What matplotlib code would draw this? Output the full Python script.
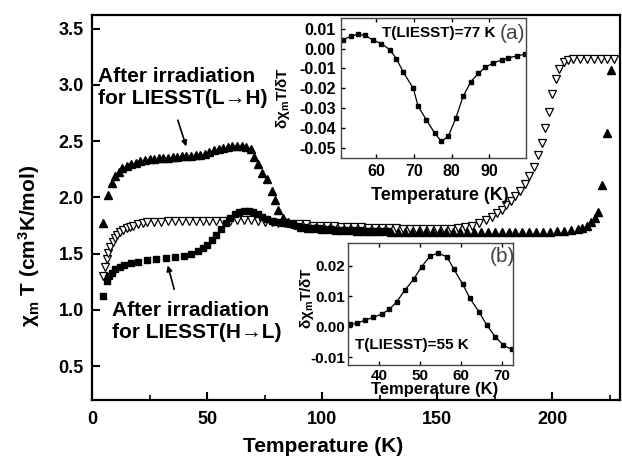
import matplotlib
matplotlib.use("Agg")
import matplotlib.pyplot as plt

plt.rcParams['font.family'] = ['Liberation Sans', 'DejaVu Sans']
plt.rcParams['font.weight'] = 'bold'
plt.rcParams['mathtext.fontset'] = 'custom'
plt.rcParams['mathtext.rm'] = 'Liberation Sans:bold'
plt.rcParams['mathtext.it'] = 'Liberation Sans:bold'
plt.rcParams['mathtext.bf'] = 'Liberation Sans:bold'

# ---- main panel data ----
# thermal curve (open down-triangles)
T_open = [4.8, 5.5, 6.3, 7, 8, 9, 10, 11, 12, 13.5, 15, 16.5, 18, 20, 22, 24, 27, 30, 33, 36,
          39, 42, 45, 48, 51, 54, 57, 60, 63, 66, 69, 72, 75, 78, 81, 84, 87, 90, 93, 96,
          99, 102, 105, 108, 111, 114, 117, 120, 123, 126, 129, 132, 135, 138, 141, 144, 147, 150, 153, 156,
          159, 162, 165, 168, 171, 174, 176, 178, 180, 182, 184, 186, 188, 190, 192, 194, 195.5, 197, 198.5, 200,
          201.5, 203, 205, 207, 209, 212, 215, 218, 221, 224, 227]
chi_open = [1.30, 1.38, 1.45, 1.51, 1.56, 1.60, 1.64, 1.67, 1.69, 1.71, 1.73, 1.74, 1.75, 1.76, 1.77, 1.78, 1.78, 1.785, 1.79, 1.79,
            1.79, 1.79, 1.79, 1.79, 1.79, 1.79, 1.79, 1.79, 1.80, 1.80, 1.80, 1.79, 1.78, 1.78, 1.77, 1.77, 1.76, 1.76, 1.76, 1.75,
            1.75, 1.75, 1.75, 1.74, 1.74, 1.74, 1.74, 1.73, 1.73, 1.73, 1.73, 1.73, 1.72, 1.72, 1.72, 1.72, 1.72, 1.72, 1.72, 1.72,
            1.73, 1.74, 1.75, 1.77, 1.80, 1.83, 1.86, 1.89, 1.93, 1.97, 2.01, 2.06, 2.12, 2.19, 2.27, 2.38, 2.48, 2.62, 2.76, 2.92,
            3.05, 3.14, 3.20, 3.22, 3.23, 3.23, 3.23, 3.23, 3.23, 3.23, 3.23]

# after irradiation for LIESST(H->L) (filled squares)
T_sq = [4.8, 6.5, 7.5, 8.5, 10, 12, 14, 17, 20, 24, 28, 32, 36, 40, 43, 46, 48, 50, 52, 54,
        56, 58, 60, 62, 64, 66, 68, 70, 72, 74, 76, 78, 80, 83, 86, 89, 92, 95, 98, 101,
        104, 107, 110, 113, 116, 119, 122, 125, 128]
chi_sq = [1.12, 1.26, 1.30, 1.33, 1.36, 1.38, 1.40, 1.42, 1.43, 1.44, 1.45, 1.46, 1.47, 1.48, 1.50, 1.52, 1.55, 1.58, 1.62, 1.67,
          1.72, 1.77, 1.82, 1.85, 1.87, 1.88, 1.88, 1.87, 1.85, 1.83, 1.81, 1.79, 1.78, 1.77, 1.76, 1.75, 1.74, 1.73, 1.73, 1.72,
          1.72, 1.71, 1.71, 1.71, 1.71, 1.70, 1.70, 1.70, 1.70]

# after irradiation for LIESST(L->H) (filled up-triangles)
T_tri = [4.8, 6.8, 8.5, 10, 11.5, 13, 15, 17, 19, 21, 23, 25, 27, 29, 31, 33, 35, 37, 39, 41,
         43, 45, 47, 49, 51, 53, 55, 57, 59, 61, 63, 65, 67, 69, 70.5, 72, 74, 76, 78, 79.5,
         81, 83, 85, 88, 91, 94, 97, 100, 103, 106, 109, 112, 115, 118, 121, 124, 127, 130, 133, 136,
         139, 142, 145, 148, 151, 154, 157, 160, 163, 166, 169, 172, 175, 178, 181, 184, 187, 190, 193, 196,
         199, 202, 205, 208, 211, 213, 215, 217, 218.5, 219.8, 221.5, 223.6, 225.5]
chi_tri = [1.77, 2.02, 2.13, 2.19, 2.23, 2.26, 2.28, 2.30, 2.31, 2.32, 2.33, 2.34, 2.345, 2.35, 2.35, 2.355, 2.36, 2.36, 2.365, 2.37,
           2.37, 2.375, 2.38, 2.39, 2.40, 2.42, 2.43, 2.44, 2.45, 2.455, 2.46, 2.46, 2.45, 2.43, 2.36, 2.30, 2.22, 2.16, 2.06, 1.98,
           1.89, 1.82, 1.78, 1.76, 1.74, 1.73, 1.73, 1.72, 1.72, 1.71, 1.71, 1.71, 1.70, 1.70, 1.70, 1.70, 1.70, 1.69, 1.69, 1.69,
           1.69, 1.69, 1.69, 1.69, 1.69, 1.69, 1.69, 1.69, 1.69, 1.69, 1.69, 1.69, 1.69, 1.69, 1.69, 1.69, 1.69, 1.69, 1.69, 1.69,
           1.69, 1.70, 1.70, 1.71, 1.72, 1.73, 1.75, 1.78, 1.82, 1.87, 2.11, 2.57, 3.13]

# ---- inset (a) ----
Ta = [51.1, 53.3, 55.1, 56.9, 59.1, 61.3, 63.5, 65.3, 67.1, 69.8, 71.1, 73.3, 75.5, 77.3, 79.1,
      81.1, 83.1, 85.1, 87.1, 88.9, 91.1, 93.3, 95.1, 97.3, 99.5]
da = [0.0045, 0.0062, 0.0072, 0.0067, 0.0042, 0.0025, -0.0005, -0.0050, -0.0117, -0.0200, -0.0290, -0.0359, -0.0425, -0.0467, -0.0442,
      -0.0350, -0.0239, -0.0167, -0.0125, -0.0095, -0.0072, -0.0058, -0.0047, -0.0037, -0.0029]

# ---- inset (b) ----
Tb = [32.9, 34.5, 36.6, 38.6, 40.7, 42.5, 44.3, 46.3, 48.4, 50.4, 52.5, 54.5, 56.6, 58.3, 60.4,
      62.2, 64.4, 66.3, 68.4, 70.4, 72.4]
db = [0.0008, 0.0011, 0.0022, 0.0031, 0.0042, 0.0057, 0.0082, 0.0120, 0.0155, 0.0197, 0.0232, 0.0241, 0.0228, 0.0188, 0.0140,
      0.0093, 0.0049, 0.0006, -0.0033, -0.0060, -0.0074]

main_xticks = [0, 50, 100, 150, 200]
main_yticks = [0.5, 1.0, 1.5, 2.0, 2.5, 3.0, 3.5]

fig = plt.figure(figsize=(6.22, 4.59), dpi=100)
ax = fig.add_axes([0.148, 0.1285, 0.849, 0.8385])

ax.plot(T_open, chi_open, linestyle='none', marker='v', ms=5.5, mfc='white', mec='black', mew=0.9, zorder=2)
ax.plot(T_sq, chi_sq, linestyle='none', marker='s', ms=4.5, color='black', zorder=3)
ax.plot(T_tri, chi_tri, linestyle='none', marker='^', ms=5.5, color='black', zorder=4)

ax.set_xlim(0, 229.5)
ax.set_ylim(0.2, 3.62)
ax.set_xticks(main_xticks)
ax.set_xticks([25, 75, 125, 175, 225], minor=True)
ax.set_yticks(main_yticks)
ax.set_yticklabels([f"{v:.1f}" for v in main_yticks])
ax.tick_params(which='major', direction='in', length=6, width=1.5, labelsize=13, pad=6)
ax.tick_params(which='minor', direction='in', length=3.5, width=1.2)
ax.tick_params(axis='x', which='major', pad=8)
for s in ax.spines.values():
    s.set_linewidth(1.6)
ax.set_xlabel('Temperature (K)', fontsize=15, fontweight='bold')
ax.xaxis.set_label_coords(0.4375, -0.097)
ax.set_ylabel('χ$_m$ T (cm$^3$K/mol)', fontsize=15, fontweight='bold')
ax.yaxis.set_label_coords(-0.094, 0.40)

ax.text(2.6, 2.98, 'After irradiation\nfor LIESST(L\u2192H)', fontsize=15, fontweight='bold',
        ha='left', va='center', linespacing=1.2, zorder=6)
ax.annotate('', xy=(41.3, 2.43), xytext=(36.9, 2.71),
            arrowprops=dict(arrowstyle='-|>', color='black', lw=1.2, mutation_scale=8))
ax.text(8.7, 0.90, 'After irradiation\nfor LIESST(H\u2192L)', fontsize=15, fontweight='bold',
        ha='left', va='center', linespacing=1.2, zorder=6)
ax.annotate('', xy=(32.6, 1.42), xytext=(36.0, 1.16),
            arrowprops=dict(arrowstyle='-|>', color='black', lw=1.2, mutation_scale=8))

# inset (a)
axa = fig.add_axes([0.549, 0.6558, 0.2967, 0.3043])
axa.plot(Ta, da, color='black', lw=0.9, marker='s', ms=3.5)
axa.set_xlim(50.7, 99.8)
axa.set_ylim(-0.055, 0.0152)
axa.set_xticks([60, 70, 80, 90])
axa.set_yticks([0.01, 0.0, -0.01, -0.02, -0.03, -0.04, -0.05])
axa.set_yticklabels(['0.01', '0.00', '-0.01', '-0.02', '-0.03', '-0.04', '-0.05'])
axa.tick_params(direction='in', length=3, width=1, labelsize=11.5, pad=4, top=True)
for s in axa.spines.values():
    s.set_linewidth(1.0)
    s.set_color('#444444')
axa.set_xlabel('Temperature (K)', fontsize=13, fontweight='bold')
axa.xaxis.set_label_coords(0.533, -0.205)
axa.set_ylabel('δχ$_m$T/δT', fontsize=11, fontweight='bold')
axa.yaxis.set_label_coords(-0.27, 0.43)
axa.text(61.4, 0.0077, 'T(LIESST)=77 K', fontsize=11, fontweight='bold', ha='left', va='center')
axa.text(92.9, 0.0077, '(a)', fontsize=15, fontweight='normal', color='#444444', ha='left', va='center')

# inset (b)
axb = fig.add_axes([0.559, 0.2048, 0.2662, 0.2651])
axb.plot(Tb, db, color='black', lw=0.9, marker='s', ms=3.2)
axb.set_xlim(32.3, 72.8)
axb.set_ylim(-0.0125, 0.0273)
axb.set_xticks([40, 50, 60, 70])
axb.set_yticks([0.02, 0.01, 0.0, -0.01])
axb.set_yticklabels(['0.02', '0.01', '0.00', '-0.01'])
axb.tick_params(direction='in', length=3, width=1, labelsize=11, pad=1.5, top=True)
axb.tick_params(axis='x', pad=3)
for s in axb.spines.values():
    s.set_linewidth(1.0)
    s.set_color('#444444')
axb.set_xlabel('Temperature (K)', fontsize=12, fontweight='bold')
axb.xaxis.set_label_coords(0.527, -0.14)
axb.set_ylabel('δχ$_m$T/δT', fontsize=11, fontweight='bold')
axb.yaxis.set_label_coords(-0.19, 0.55)
axb.text(67.1, 0.0229, '(b)', fontsize=15, fontweight='normal', color='#444444', ha='left', va='center')
axb.text(34.1, -0.006, 'T(LIESST)=55 K', fontsize=11, fontweight='bold', ha='left', va='center')

fig.savefig('out.png', dpi=100)
